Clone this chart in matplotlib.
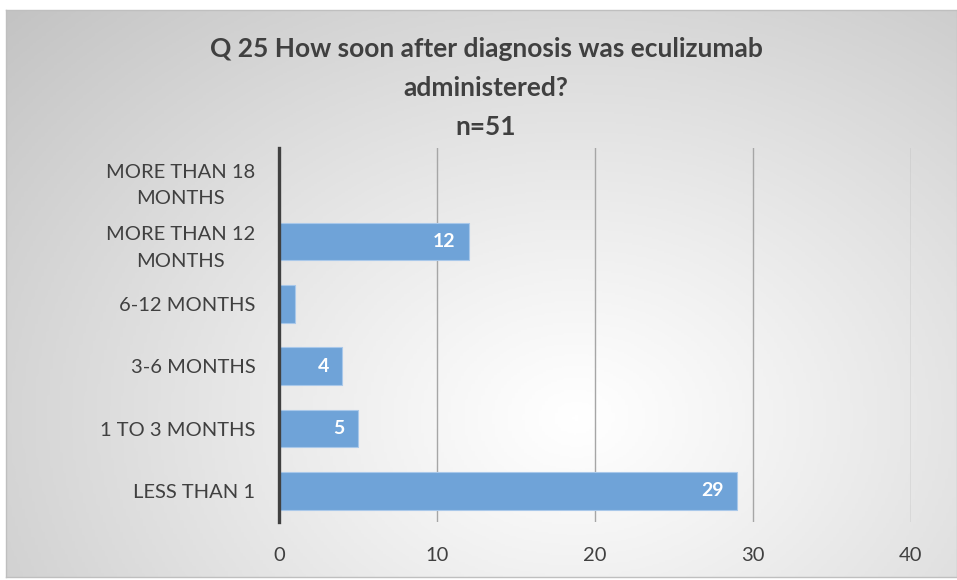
import matplotlib.pyplot as plt
import numpy as np
from matplotlib.colors import LinearSegmentedColormap

# %%
# Data (bottom to top)
categories = ["LESS THAN 1", "1 TO 3 MONTHS", "3-6 MONTHS", "6-12 MONTHS",
              "MORE THAN 12\nMONTHS", "MORE THAN 18\nMONTHS"]
counts = [29, 5, 4, 1, 12, 0]
xticks = [0, 10, 20, 30, 40]
title = "Q 25 How soon after diagnosis was eculizumab\nadministered?\nn=51"

W, H = 957, 580
plt.rcParams["font.family"] = ["Lato", "DejaVu Sans"]
fig = plt.figure(figsize=(W / 100, H / 100), dpi=100)
fig.patch.set_facecolor("white")

# %%
# Radial gradient background of the chart frame
bg = fig.add_axes([6 / W, 1 - 577 / H, (W - 6) / W, (577 - 10) / H], zorder=0)
gx, gy = np.meshgrid(np.linspace(0, 1, 300), np.linspace(0, 1, 300))
d = np.sqrt(((gx - 0.6) / 0.75) ** 2 + ((gy - 0.72) / 0.95) ** 2)
d = np.clip(d / d.max(), 0, 1) ** 1.1
cmap = LinearSegmentedColormap.from_list("bg", ["#ffffff", "#c3c3c3"])
bg.imshow(d, cmap=cmap, aspect="auto", extent=(0, 1, 0, 1), origin="upper",
          vmin=0, vmax=1)
bg.set_xticks([]), bg.set_yticks([])
for s in bg.spines.values():
    s.set_color("#bfbfbf")
    s.set_linewidth(1.0)

# %%
# Bars
ax = fig.add_axes([279 / W, 1 - 522 / H, (911 - 279) / W, (522 - 148) / H], zorder=1)
ax.patch.set_alpha(0)
ypos = np.arange(len(categories))
bars = ax.barh(ypos, counts, height=0.6, color="#6fa3d8", edgecolor="#a9c8ea",
               linewidth=0.8, zorder=3)
for b, v in zip(bars, counts):
    if v >= 2:
        ax.text(b.get_width() - 0.85, b.get_y() + b.get_height() / 2, str(v),
                ha="right", va="center", color="white", fontsize=14,
                fontweight="bold", zorder=4)

ax.set_xlim(0, 40)
ax.set_ylim(-0.5, len(categories) - 0.5)
ax.set_xticks(xticks)
ax.set_yticks(ypos)
ax.set_yticklabels(categories, multialignment="center", linespacing=1.7)
ax.tick_params(axis="both", length=0, labelsize=14.5, colors="#404040")
ax.tick_params(axis="y", pad=17)
ax.tick_params(axis="x", pad=18)
ax.grid(axis="x", color="#a6a6a6", linewidth=1.0, zorder=1)
for side in ["top", "right", "bottom"]:
    ax.spines[side].set_visible(False)
ax.spines["left"].set_color("#404040")
ax.spines["left"].set_linewidth(2.4)
ax.spines["left"].set_zorder(5)

fig.text(486 / W, 1 - 88 / H, title, ha="center", va="center", fontsize=19,
         fontweight="bold", color="#404040", linespacing=1.75)

fig.savefig("out.png", dpi=100)
